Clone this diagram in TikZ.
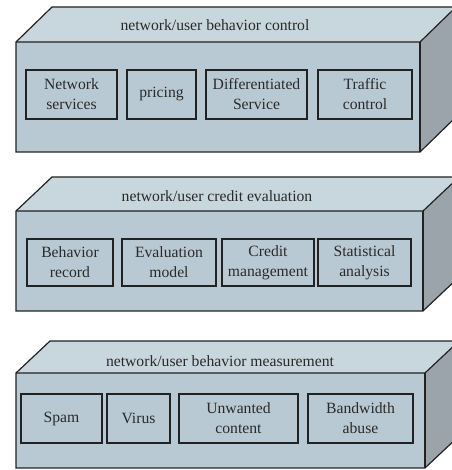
\documentclass[tikz,border=0pt]{standalone}
\usepackage{fontspec}
\setmainfont{Liberation Serif}
\definecolor{frontc}{HTML}{B9C9D3}
\definecolor{topc}{HTML}{C8D6DD}
\definecolor{sidec}{HTML}{9BA4AB}
\definecolor{edgec}{HTML}{222222}
\definecolor{textc}{HTML}{2A2A2A}
\tikzset{
  face/.style={draw=edgec, line width=0.9pt, line join=miter},
  item/.style={draw=edgec, line width=0.9pt, fill=frontc, text=textc,
    align=center, inner sep=0pt, font=\fontsize{11.75}{15}\selectfont},
  heading/.style={text=textc, inner sep=0pt, font=\fontsize{11.75}{15}\selectfont}
}
% slab: front-top-left x, front-top y, front right x, front bottom y, depth dx, depth dy
\newcommand{\slab}[6]{%
  \fill[topc] (#1,#2) -- ++(#5,-#6) -- (#3+#5,#2-#6) -- (#3,#2) -- cycle;
  \fill[sidec] (#3,#2) -- (#3+#5,#2-#6) -- (#3+#5,#4-#6) -- (#3,#4) -- cycle;
  \fill[frontc] (#1,#2) rectangle (#3,#4);
  \draw[face] (#1,#4) -- (#1,#2) -- ++(#5,-#6) -- (#3+#5,#2-#6) -- (#3+#5,#4-#6) -- (#3,#4) -- cycle;
  \draw[face] (#1,#2) -- (#3,#2) -- (#3+#5,#2-#6);
  \draw[face] (#3,#2) -- (#3,#4);
}
\begin{document}
\begin{tikzpicture}[x=0.75pt,y=-0.75pt]
\useasboundingbox (0,0) rectangle (452,470);
\clip (0,0) rectangle (452,470);

% upper slab: behavior control
\slab{16}{42}{420}{152}{36}{35}
\node[heading] (tctl) at (215,25) {network/user behavior control};
\node[item, minimum width=91*0.75pt, minimum height=49*0.75pt] (netsrv) at (71.5,94.5) {Network\\services};
\node[item, minimum width=69*0.75pt, minimum height=49*0.75pt] (pricing) at (161.5,94.5) {pricing};
\node[item, minimum width=101*0.75pt, minimum height=49*0.75pt] (diffsrv) at (256.5,94.5) {Differentiated\\Service};
\node[item, minimum width=94*0.75pt, minimum height=49*0.75pt] (traffic) at (365,94.5) {Traffic\\control};

% middle slab: credit evaluation
\slab{16}{211}{423}{311}{36}{34}
\node[heading] (tcred) at (217,196) {network/user credit evaluation};
\node[item, minimum width=86*0.75pt, minimum height=47*0.75pt] (behrec) at (70,262.5) {Behavior\\record};
\node[item, minimum width=94*0.75pt, minimum height=47*0.75pt] (evalm) at (169,262.5) {Evaluation\\model};
\node[item, minimum width=92*0.75pt, minimum height=47*0.75pt] (credm) at (268,262.5) {Credit\\management};
\node[item, minimum width=93*0.75pt, minimum height=47*0.75pt] (stat) at (364.5,262.5) {Statistical\\analysis};

% lower slab: behavior measurement
\slab{16}{373}{425}{468}{34}{32}
\node[heading] (tmeas) at (220,361) {network/user behavior measurement};
\node[item, minimum width=81*0.75pt, minimum height=49*0.75pt] (spam) at (61.5,418.5) {Spam};
\node[item, minimum width=63*0.75pt, minimum height=49*0.75pt] (virus) at (138.5,418.5) {Virus};
\node[item, minimum width=119*0.75pt, minimum height=49*0.75pt] (unwant) at (238.5,418.5) {Unwanted\\content};
\node[item, minimum width=105*0.75pt, minimum height=49*0.75pt] (bwabuse) at (360.5,418.5) {Bandwidth\\abuse};
\end{tikzpicture}
\end{document}
